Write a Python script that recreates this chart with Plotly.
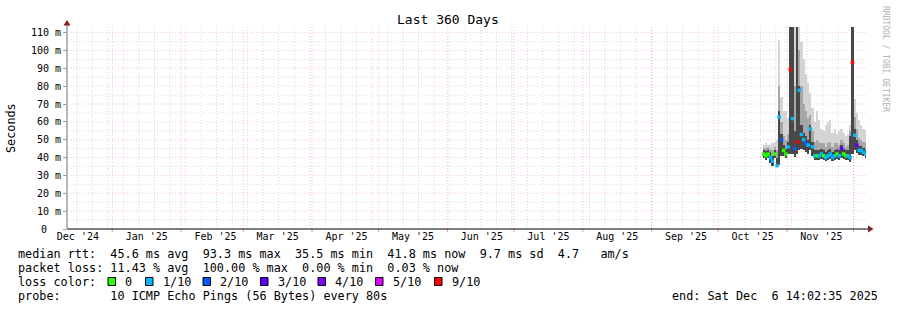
import plotly.graph_objects as go
import pandas as pd

# ---------------- data ----------------
START = "2024-12-11 14:02:35"
END = "2025-12-06 14:02:35"

# one sample per day (column centres)
times = pd.date_range("2025-10-21 12:00", periods=47, freq="D")

median_ms = [42, 41, 42, 40, 38, 42, 35.5, 62.7, 50, 44, 42, 46, 89.3, 61.8, 45, 48.7,
             77.7, 53, 50, 48, 47, 56, 46, 41, 41, 41, 42, 41, 40, 41, 42, 40,
             41, 42, 41, 45, 42, 41, 41, 40, 93.3, 52.5, 47, 44, 44, 43, 41.8]
smoke_lo = [40, 38.5, 39.5, 37, 35.5, 39.5, 35, 36, 41, 41, 40, 42, 42, 42, 40.5, 42,
            44, 45, 44, 43, 42, 44, 41, 38.5, 38.5, 38.5, 39, 38.5, 38, 38.5, 39, 38,
            38.5, 39, 38.5, 40, 39, 38.5, 38.5, 37.5, 42, 44, 42.5, 41.5, 41.5, 41, 40]
smoke_dark_hi = [44, 43.5, 44, 43, 41, 44, 40, 66, 53, 47, 45, 49, 150, 150, 55, 150,
                 80, 58, 54, 52, 50, 58, 49, 44, 44, 44, 45, 44, 43, 44, 45, 43,
                 44, 45, 44, 47, 45, 44, 44, 52, 150, 56, 50, 46.5, 46.5, 45.5, 44.5]
smoke_mid_hi = [45.5, 45.5, 46, 45, 44, 46, 44, 80, 60, 52, 50, 53, 150, 150, 80, 150,
                100, 80, 70, 66, 62, 64, 55, 49, 50, 49, 48, 48, 46, 48, 49, 46,
                48, 48, 47, 50, 48, 46, 47, 55, 150, 63, 56, 51, 50, 49, 48]
smoke_hi = [47, 48, 47, 47, 48, 49, 50, 106, 74, 66, 66, 62, 150, 150, 150, 150,
            150, 105, 95, 87, 82, 76, 68, 60, 66, 61, 56, 55, 58, 60, 61, 54,
            56, 53, 55, 56, 54, 52, 53, 58, 150, 73, 65, 61, 58, 56, 55]
loss = ["0", "0", "0", "1/10", "1/10", "0", "1/10", "1/10", "2/10", "0", "0", "1/10",
        "9/10", "1/10", "2/10", "9/10", "1/10", "1/10", "1/10", "2/10", "1/10", "1/10",
        "1/10", "1/10", "0", "1/10", "1/10", "0", "1/10", "1/10", "1/10", "1/10",
        "1/10", "0", "1/10", "3/10", "0", "0", "1/10", "1/10", "9/10", "1/10",
        "3/10", "1/10", "1/10", "1/10", "1/10"]

loss_levels = ["0", "1/10", "2/10", "3/10", "4/10", "5/10", "9/10"]
loss_colors = ["#26ff00", "#00b8ff", "#0059ff", "#5e00ff", "#7e00ff", "#dd00ff", "#ff0000"]

y_tick_vals = [0, 10, 20, 30, 40, 50, 60, 70, 80, 90, 100, 110]
y_tick_text = ["0", "10 m", "20 m", "30 m", "40 m", "50 m", "60 m", "70 m",
               "80 m", "90 m", "100 m", "110 m"]
y_minor_vals = [5, 15, 25, 35, 45, 55, 65, 75, 85, 95, 105]

month_labels = ["Dec '24", "Jan '25", "Feb '25", "Mar '25", "Apr '25", "May '25",
                "Jun '25", "Jul '25", "Aug '25", "Sep '25", "Oct '25", "Nov '25"]

legend_line1 = "median rtt:  45.6 ms avg  93.3 ms max  35.5 ms min  41.8 ms now  9.7 ms sd  4.7   am/s"
legend_line2 = "packet loss: 11.43 % avg  100.00 % max  0.00 % min  0.03 % now"
legend_line3 = "loss color:"
legend_line4 = "probe:       10 ICMP Echo Pings (56 Bytes) every 80s"
end_text = "end: Sat Dec  6 14:02:35 2025"
title_text = "Last 360 Days"

# ---------------- layout geometry ----------------
W, H = 897, 310
ML, MR, MT, MB = 67, 31, 27, 81
PW = W - ML - MR
PH = H - MT - MB
Y_MAX = 113.13
MONO = "DejaVu Sans Mono"


def px(x):
    return (x - ML) / PW


def py(y):
    return (MT + PH - y) / PH


def nb(s):
    return s.replace(" ", "\u00a0")


color_of = dict(zip(loss_levels, loss_colors))
day_ms = 86400000

fig = go.Figure()

for top, col in [(smoke_hi, "#d4d4d4"), (smoke_mid_hi, "#a6a6a6"), (smoke_dark_hi, "#484848")]:
    fig.add_trace(go.Bar(
        x=times, base=smoke_lo, y=[t - l for t, l in zip(top, smoke_lo)],
        width=day_ms, marker=dict(color=col, line=dict(width=0)),
        showlegend=False, hoverinfo="skip"))

fig.add_trace(go.Scatter(
    x=times, y=median_ms, mode="markers",
    marker=dict(symbol="square", size=3.5, color=[color_of[l] for l in loss], line=dict(width=0)),
    showlegend=False, hoverinfo="skip"))

month_starts = pd.date_range("2025-01-01", "2025-12-01", freq="MS")
label_months = pd.date_range("2024-12-01", "2025-11-01", freq="MS")
label_pos = [m + pd.Timedelta(hours=372) for m in label_months]
week_lines = pd.date_range("2024-12-16", "2025-12-06", freq="W-MON")

fig.add_trace(go.Scatter(x=[START, END], y=[None, None], xaxis="x2", showlegend=False,
                         hoverinfo="skip", mode="lines"))

grid_minor = "rgba(150,150,150,0.38)"
grid_major = "rgba(225,80,80,0.32)"

# unit-suffixed labels go on the axis; the bare zero (rrdtool keeps it in the
# number column, left of the unit column) is placed as its own text below
axis_ticktext = [nb(t) if " " in t else "" for t in y_tick_text]

fig.update_layout(
    width=W, height=H,
    margin=dict(l=ML, r=MR, t=MT, b=MB),
    paper_bgcolor="white", plot_bgcolor="white",
    barmode="overlay", bargap=0,
    showlegend=False,
    font=dict(family=MONO, color="black"),
    xaxis=dict(type="date", range=[START, END], showticklabels=False, showgrid=False,
               ticks="", zeroline=False, showline=False),
    xaxis2=dict(
        type="date", range=[START, END], overlaying="x", anchor="y", side="bottom",
        tickmode="array", tickvals=label_pos, ticktext=month_labels,
        showgrid=False, ticks="", showline=False, zeroline=False,
        tickfont=dict(family=MONO, size=10, color="black"),
    ),
    yaxis=dict(
        range=[0, Y_MAX], tickmode="array", tickvals=y_tick_vals,
        ticktext=axis_ticktext,
        tickfont=dict(family=MONO, size=10, color="black"),
        showgrid=False, ticks="outside", ticklen=3, tickcolor="#999999",
        zeroline=False, showline=False,
    ),
)

shapes = []
# grid lines (below data)
for v in y_minor_vals:
    shapes.append(dict(type="line", xref="paper", yref="y", x0=0, x1=1, y0=v, y1=v, layer="below",
                       line=dict(color=grid_minor, width=1, dash="1px,2px")))
for v in y_tick_vals[1:]:
    shapes.append(dict(type="line", xref="paper", yref="y", x0=0, x1=1, y0=v, y1=v, layer="below",
                       line=dict(color=grid_major, width=1, dash="1px,2px")))
for d in week_lines:
    shapes.append(dict(type="line", xref="x", yref="paper", x0=d, x1=d, y0=0, y1=1, layer="below",
                       line=dict(color=grid_minor, width=1, dash="1px,2px")))
for d in month_starts:
    shapes.append(dict(type="line", xref="x", yref="paper", x0=d, x1=d, y0=0, y1=1, layer="below",
                       line=dict(color=grid_major, width=1, dash="1px,2px")))
    shapes.append(dict(type="line", xref="x", yref="paper", x0=d, x1=d, y0=py(MT + PH + 3), y1=0,
                       line=dict(color="rgba(225,80,80,0.6)", width=1)))

# axes with arrows
shapes.append(dict(type="line", xref="paper", yref="paper", x0=px(ML), x1=px(870),
                   y0=py(MT + PH), y1=py(MT + PH), line=dict(color="black", width=1)))
shapes.append(dict(type="line", xref="paper", yref="paper", x0=px(ML), x1=px(ML),
                   y0=py(MT + PH), y1=py(24), line=dict(color="#707070", width=1)))
arrow_col = "#801f1f"
shapes.append(dict(type="path", xref="paper", yref="paper",
                   path=f"M {px(868)} {py(225.5)} L {px(873.5)} {py(229)} L {px(868)} {py(232.5)} Z",
                   fillcolor=arrow_col, line=dict(width=0)))
shapes.append(dict(type="path", xref="paper", yref="paper",
                   path=f"M {px(63.5)} {py(25.5)} L {px(67)} {py(20)} L {px(70.5)} {py(25.5)} Z",
                   fillcolor=arrow_col, line=dict(width=0)))

# loss colour boxes
box_left = [108, 145.5, 203, 260.5, 318, 375.5, 434.5]
for bx, col in zip(box_left, loss_colors):
    shapes.append(dict(type="rect", xref="paper", yref="paper",
                       x0=px(bx), x1=px(bx + 7.5), y0=py(285.5), y1=py(277.5),
                       fillcolor=col, line=dict(color="black", width=1)))
fig.update_layout(shapes=shapes)

ann = []
LEG = 11.8
for v, t in zip(y_tick_vals, y_tick_text):
    if " " not in t:
        ann.append(dict(text=t, x=px(48.8), y=v, xref="paper", yref="y",
                        xanchor="right", yanchor="middle", showarrow=False,
                        font=dict(family=MONO, size=10, color="black")))
ann.append(dict(text=nb(title_text), x=px(447.5), y=py(19.5), xref="paper", yref="paper",
                xanchor="center", yanchor="middle", showarrow=False,
                font=dict(family=MONO, size=13, color="black")))
ann.append(dict(text="Seconds", x=px(11), y=0.5, xref="paper", yref="paper", textangle=-90,
                xanchor="center", yanchor="middle", showarrow=False,
                font=dict(family=MONO, size=LEG, color="black")))
ann.append(dict(text=nb("RRDTOOL / TOBI OETIKER"), x=px(886), y=py(59), xref="paper", yref="paper",
                textangle=90, xanchor="center", yanchor="middle", showarrow=False,
                font=dict(family=MONO, size=8, color="#b0b0b0")))
for txt, yc in [(legend_line1, 254), (legend_line2, 268), (legend_line3, 282), (legend_line4, 296)]:
    ann.append(dict(text=nb(txt), x=px(16), y=py(yc), xref="paper", yref="paper",
                    xanchor="left", yanchor="middle", showarrow=False,
                    font=dict(family=MONO, size=LEG, color="black")))
for bx, lv in zip(box_left, loss_levels):
    ann.append(dict(text=nb(lv), x=px(bx + 15), y=py(282), xref="paper", yref="paper",
                    xanchor="left", yanchor="middle", showarrow=False,
                    font=dict(family=MONO, size=LEG, color="black")))
ann.append(dict(text=nb(end_text), x=px(880.5), y=py(296), xref="paper", yref="paper",
                xanchor="right", yanchor="middle", showarrow=False,
                font=dict(family=MONO, size=LEG, color="black")))
fig.update_layout(annotations=ann)

fig.write_html("out.html")
